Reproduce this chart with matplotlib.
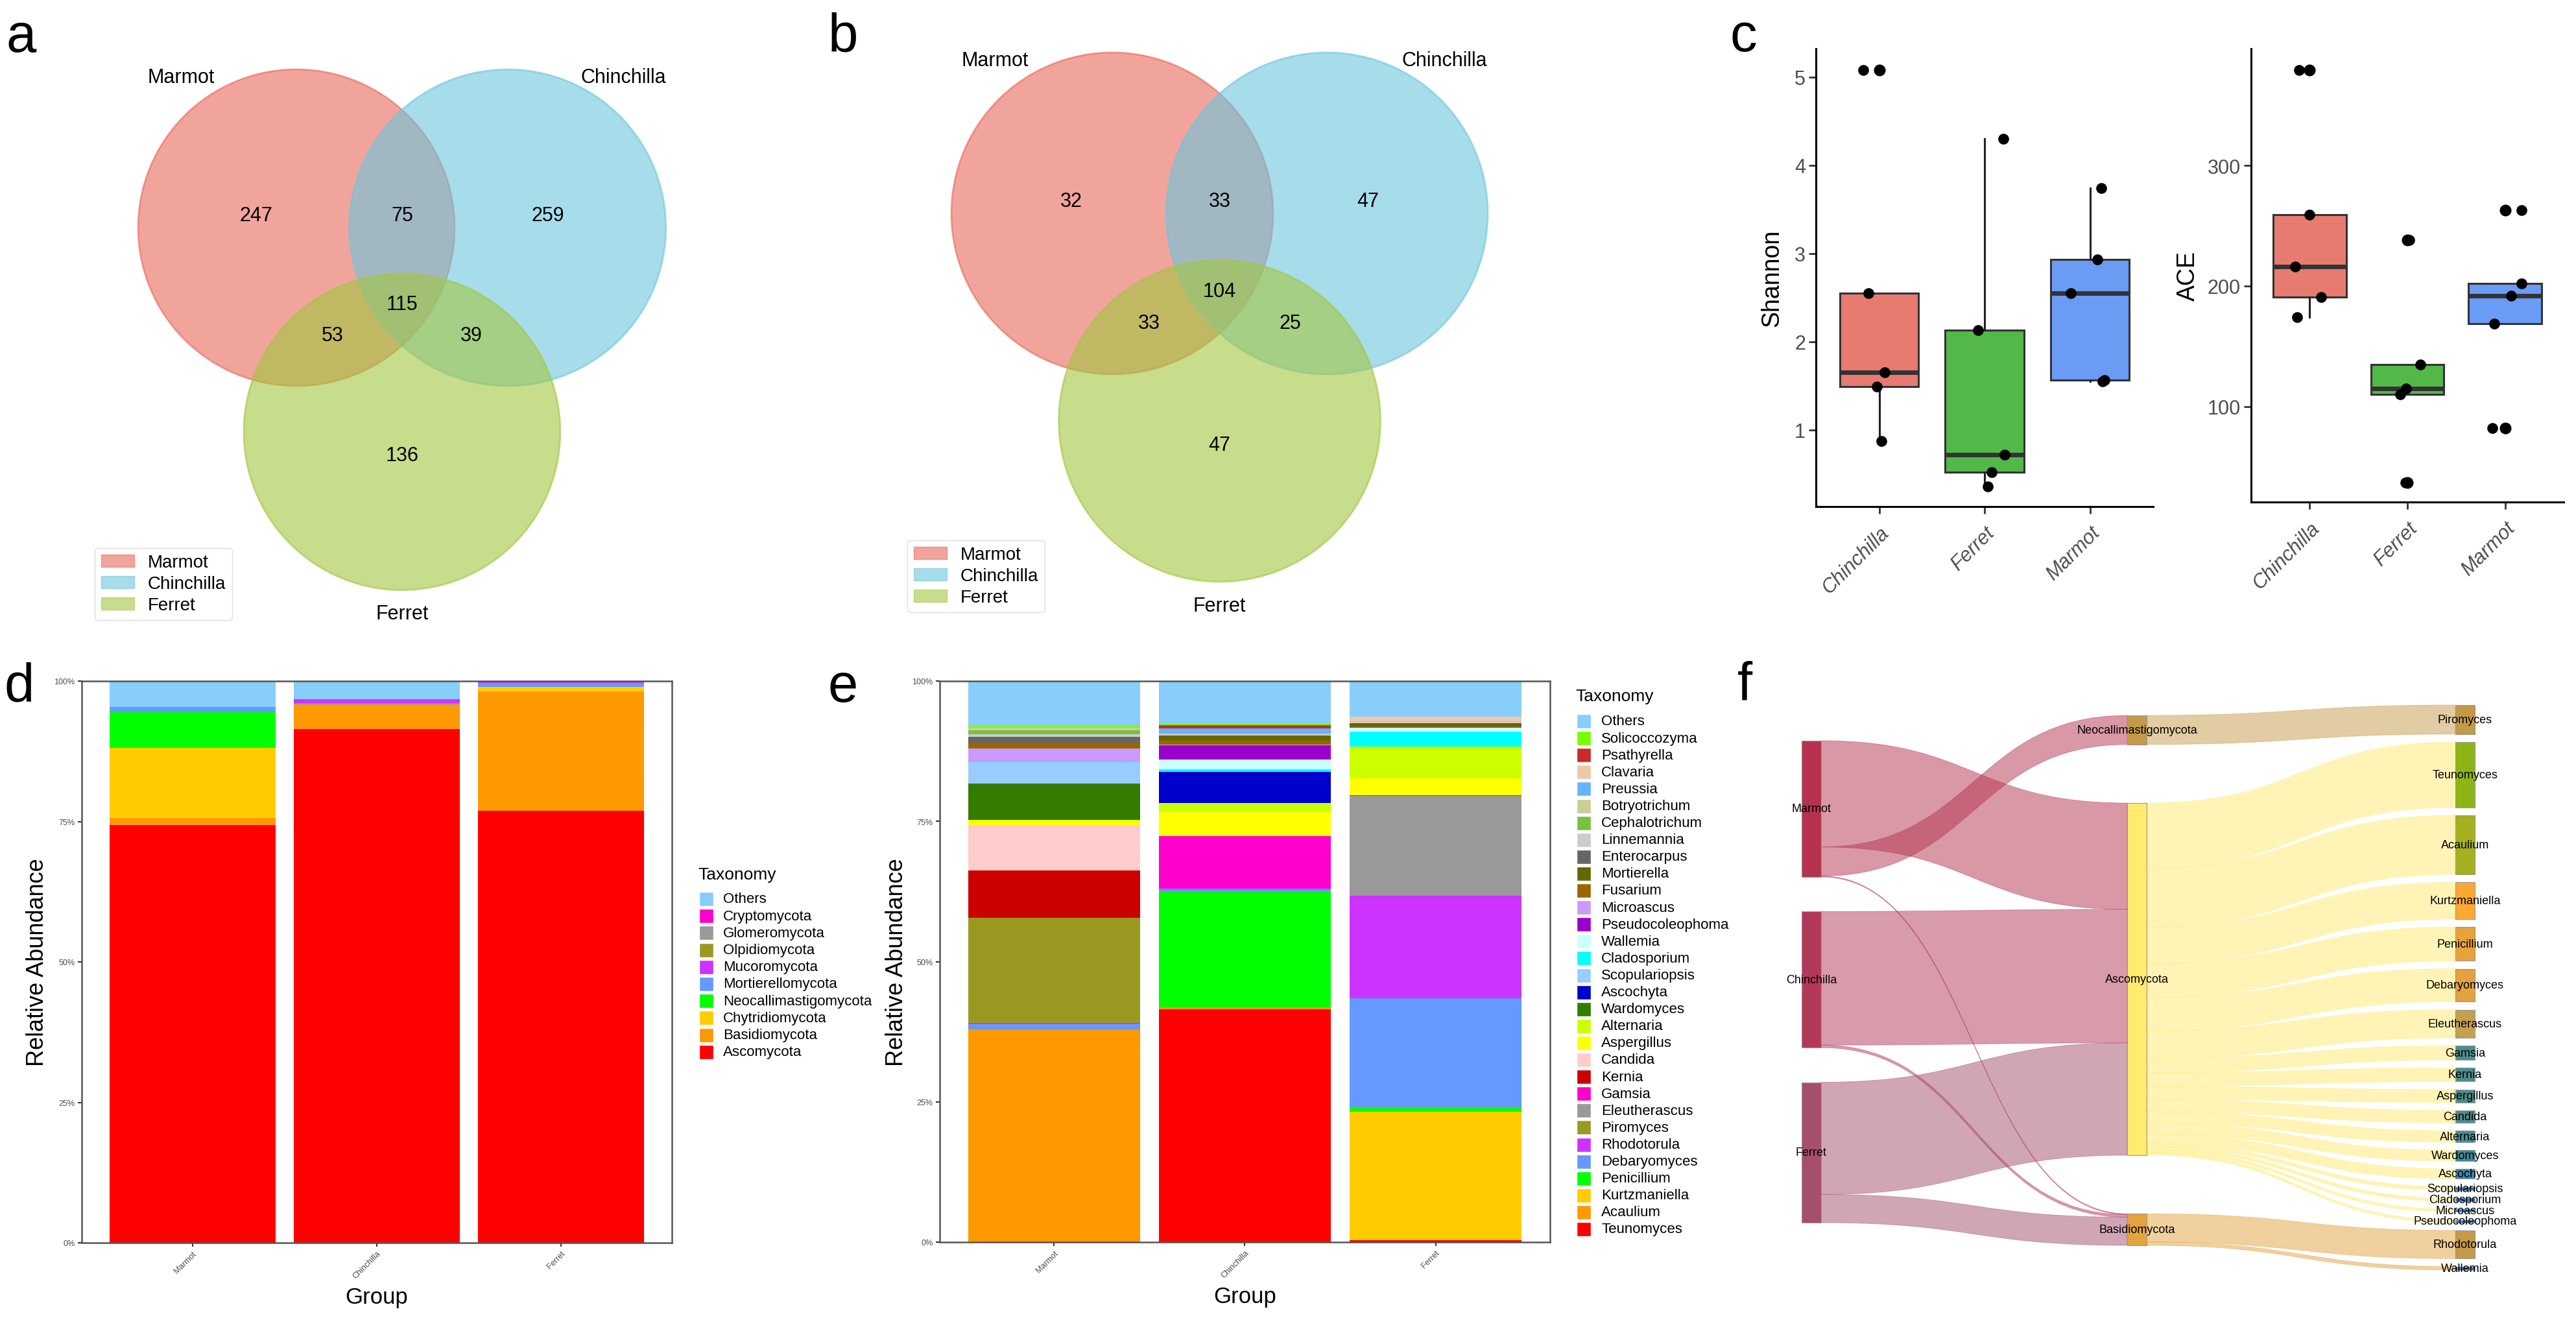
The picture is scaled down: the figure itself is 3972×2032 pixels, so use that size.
import numpy as np
import matplotlib
matplotlib.use('Agg')
import matplotlib.pyplot as plt
from matplotlib.patches import Circle, Rectangle, PathPatch, Patch
from matplotlib.path import Path

plt.rcParams['font.family'] = ['Liberation Sans', 'DejaVu Sans']

# ======================= DATA =======================
venn_sets = ['Marmot', 'Chinchilla', 'Ferret']
venn_regions = ['M', 'C', 'MC', 'MCF', 'MF', 'CF', 'F']
venn_a_counts = [247, 259, 75, 115, 53, 39, 136]
venn_b_counts = [32, 47, 33, 104, 33, 25, 47]

box_groups = ['Chinchilla', 'Ferret', 'Marmot']
shannon_chinchilla = [5.08, 2.55, 1.65, 1.49, 0.87]
shannon_ferret = [4.30, 2.13, 0.72, 0.52, 0.36]
shannon_marmot = [3.74, 2.93, 2.55, 1.55, 1.56]
ace_chinchilla = [379, 259, 216, 191, 174]
ace_ferret = [238, 135, 115, 110, 37]
ace_marmot = [263, 202, 192, 169, 82]

bar_groups = ['Marmot', 'Chinchilla', 'Ferret']
phyla = ['Ascomycota', 'Basidiomycota', 'Chytridiomycota', 'Neocallimastigomycota',
         'Mortierellomycota', 'Mucoromycota', 'Olpidiomycota', 'Glomeromycota',
         'Cryptomycota', 'Others']
phylum_marmot = [0.744, 0.0122, 0.125, 0.0629, 0.0096, 0.0, 0.0, 0.0, 0.0, 0.0463]
phylum_chinchilla = [0.915, 0.0432, 0.0, 0.0, 0.0027, 0.0069, 0.0, 0.0, 0.0, 0.0322]
phylum_ferret = [0.7685, 0.213, 0.0081, 0.0, 0.0073, 0.003, 0.0, 0.0, 0.0, 0.0001]

genera = ['Teunomyces', 'Acaulium', 'Kurtzmaniella', 'Penicillium', 'Debaryomyces',
          'Rhodotorula', 'Piromyces', 'Eleutherascus', 'Gamsia', 'Kernia', 'Candida',
          'Aspergillus', 'Alternaria', 'Wardomyces', 'Ascochyta', 'Scopulariopsis',
          'Cladosporium', 'Wallemia', 'Pseudocoleophoma', 'Microascus', 'Fusarium',
          'Mortierella', 'Enterocarpus', 'Linnemannia', 'Cephalotrichum', 'Botryotrichum',
          'Preussia', 'Clavaria', 'Psathyrella', 'Solicoccozyma', 'Others']
genus_marmot = [0.0, 0.379, 0.0, 0.0, 0.010, 0.002, 0.187, 0.0, 0.0, 0.085, 0.080,
                0.0085, 0.001, 0.065, 0.0, 0.0385, 0.001, 0.0, 0.0, 0.0223, 0.0108,
                0.0, 0.0108, 0.0046, 0.0069, 0.0046, 0.0, 0.0, 0.0, 0.0027, 0.0803]
genus_chinchilla = [0.415, 0.003, 0.0, 0.207, 0.004, 0.002, 0.0, 0.0, 0.093, 0.0, 0.0,
                    0.0423, 0.0166, 0.0, 0.0554, 0.0, 0.005, 0.0173, 0.025, 0.001, 0.0069,
                    0.0092, 0.0, 0.0021, 0.0, 0.0021, 0.0085, 0.0, 0.0058, 0.002, 0.0768]
genus_ferret = [0.004, 0.0, 0.2285, 0.0076, 0.1945, 0.183, 0.0, 0.178, 0.001, 0.0, 0.0,
                0.0296, 0.057, 0.0, 0.0, 0.0, 0.027, 0.0062, 0.0, 0.0, 0.0023,
                0.0062, 0.0, 0.002, 0.0, 0.0019, 0.0, 0.0077, 0.0, 0.0, 0.0635]

sankey_groups = ['Marmot', 'Chinchilla', 'Ferret']
sankey_phyla = ['Neocallimastigomycota', 'Ascomycota', 'Basidiomycota']
link_src = ['Marmot', 'Marmot', 'Marmot', 'Chinchilla', 'Chinchilla', 'Ferret', 'Ferret']
link_tgt = ['Ascomycota', 'Neocallimastigomycota', 'Basidiomycota', 'Ascomycota',
            'Basidiomycota', 'Ascomycota', 'Basidiomycota']
link_val = [249, 68, 2, 313, 6, 263, 66]
sankey_genera = ['Piromyces', 'Teunomyces', 'Acaulium', 'Kurtzmaniella', 'Penicillium',
                 'Debaryomyces', 'Eleutherascus', 'Gamsia', 'Kernia', 'Aspergillus',
                 'Candida', 'Alternaria', 'Wardomyces', 'Ascochyta', 'Scopulariopsis',
                 'Cladosporium', 'Microascus', 'Pseudocoleophoma', 'Rhodotorula', 'Wallemia']
genus_parent = ['Neocallimastigomycota'] + ['Ascomycota'] * 17 + ['Basidiomycota'] * 2
genus_value = [68, 153, 138, 86, 79, 77, 66, 33, 32, 30, 29, 27, 25, 23, 8, 7, 6, 6, 66, 8]

# ======================= STYLE =======================
W, H = 3973, 2033
fig = plt.figure(figsize=(W / 100, H / 100), dpi=100)


def px_axes(x0, y0, x1, y1, **kw):
    return fig.add_axes([x0 / W, 1 - y1 / H, (x1 - x0) / W, (y1 - y0) / H], **kw)


def panel_label(x, y, s):
    fig.text(x / W, 1 - y / H, s, fontsize=60, ha='left', va='baseline')


venn_colors = ['#E8685A', '#6CC6DE', '#A2C73F']
# label offsets in units of the circle radius
region_offsets = {'M': ('M', -0.255, -0.078), 'C': ('C', 0.255, -0.078),
                  'MC': ('MCmid', 0.0, -0.078), 'MCF': ('cent', 0.0, 0.053),
                  'MF': ('M', 0.23, 0.68), 'CF': ('C', -0.23, 0.68), 'F': ('F', 0.0, 0.15)}


def draw_venn(ax, mx, my, r, counts, legend_anchor):
    centers = {'M': (mx, my), 'C': (mx + 1.335 * r, my), 'F': (mx + 0.6675 * r, my + 1.29 * r)}
    centers['MCmid'] = ((centers['M'][0] + centers['C'][0]) / 2, my)
    centers['cent'] = (np.mean([centers[k][0] for k in 'MCF']), np.mean([centers[k][1] for k in 'MCF']))
    for key, col in zip('MCF', venn_colors):
        ax.add_patch(Circle(centers[key], r, facecolor=col, edgecolor=col, alpha=0.6, lw=2))
    for reg, cnt in zip(venn_regions, counts):
        anc, dx, dy = region_offsets[reg]
        ax.text(centers[anc][0] + dx * r, centers[anc][1] + dy * r, str(cnt),
                ha='center', va='center', fontsize=22)
    ax.text(centers['M'][0] - 0.73 * r, my - 0.95 * r, venn_sets[0], ha='center', va='center', fontsize=22)
    ax.text(centers['C'][0] + 0.73 * r, my - 0.95 * r, venn_sets[1], ha='center', va='center', fontsize=22)
    ax.text(centers['F'][0], centers['F'][1] + 1.15 * r, venn_sets[2], ha='center', va='center', fontsize=22)
    handles = [Patch(facecolor=c, edgecolor=c, alpha=0.6) for c in venn_colors]
    leg = ax.legend(handles, venn_sets, loc='lower left', bbox_to_anchor=legend_anchor,
                    bbox_transform=ax.transData, borderaxespad=0, fontsize=20,
                    handlelength=1.85, handleheight=0.7, labelspacing=0.25,
                    handletextpad=0.75, borderpad=0.35, fancybox=True, framealpha=1)
    leg.get_frame().set_edgecolor('#DDDDDD')


# ---- panel a
ax_a = px_axes(0, 0, 1300, 1000)
ax_a.set_xlim(0, 1300); ax_a.set_ylim(1000, 0); ax_a.axis('off')
draw_venn(ax_a, 457, 352, 244, venn_a_counts, (146, 957))
# ---- panel b
ax_b = px_axes(1300, 0, 2600, 1000)
ax_b.set_xlim(0, 1300); ax_b.set_ylim(1000, 0); ax_b.axis('off')
draw_venn(ax_b, 415, 330, 248, venn_b_counts, (99, 945))

# ---- panel c
box_colors = ['#E87B70', '#52B848', '#6A9BF5']


def draw_box(ax, data, jitter, ylim, yticks, ylabel, label_x):
    pos = np.arange(1, 4)
    bp = ax.boxplot(data, positions=pos, widths=0.75, patch_artist=True, whis=1.5,
                    showcaps=False,
                    flierprops=dict(marker='o', markerfacecolor='black', markeredgecolor='black', markersize=12),
                    medianprops=dict(color='#333333', lw=5),
                    boxprops=dict(edgecolor='#333333', lw=2.2),
                    whiskerprops=dict(color='#222222', lw=2.2))
    for patch, col in zip(bp['boxes'], box_colors):
        patch.set_facecolor(col)
    for p, vals, jit in zip(pos, data, jitter):
        ax.plot(p + np.array(jit), vals, 'o', color='black', markersize=12, zorder=5, markeredgewidth=0)
    ax.set_xlim(0.4, 3.6)
    ax.set_ylim(*ylim)
    ax.set_yticks(yticks)
    ax.set_xticks(pos)
    ax.set_xticklabels(box_groups, rotation=45, ha='right', rotation_mode='anchor',
                       fontstyle='italic')
    for s in ['top', 'right']:
        ax.spines[s].set_visible(False)
    for s in ['left', 'bottom']:
        ax.spines[s].set_linewidth(2.2)
        ax.spines[s].set_color('black')
    ax.tick_params(length=8, width=2, color='#333333', labelsize=22, labelcolor='#4D4D4D')
    ax.tick_params(axis='x', pad=10)
    ax.set_ylabel(ylabel, fontsize=27)
    ax.yaxis.set_label_coords(label_x, 0.5)


shannon_jitter = [[-0.15, -0.10, 0.05, -0.02, 0.02], [0.18, -0.06, 0.19, 0.07, 0.03],
                  [0.11, 0.07, -0.18, 0.12, 0.14]]
ace_jitter = [[-0.11, 0.0, -0.15, 0.12, -0.13], [0.02, 0.13, -0.01, -0.07, -0.02],
              [0.17, 0.17, 0.06, -0.11, -0.13]]
ax_s = px_axes(2800, 76, 3320, 782)
draw_box(ax_s, [shannon_chinchilla, shannon_ferret, shannon_marmot], shannon_jitter,
         (0.13, 5.32), [1, 2, 3, 4, 5], 'Shannon', -0.095)
ax_ace = px_axes(3471, 76, 3953, 775)
draw_box(ax_ace, [ace_chinchilla, ace_ferret, ace_marmot], ace_jitter,
         (20.7, 397), [100, 200, 300], 'ACE', -0.165)

# ---- panels d, e
phylum_colors = ['#FF0000', '#FF9900', '#FFCC00', '#00FF00', '#6699FF', '#CC33FF',
                 '#999922', '#999999', '#FF00CC', '#87CEFA']
genus_colors = ['#FF0000', '#FF9900', '#FFCC00', '#00FF00', '#6699FF', '#CC33FF',
                '#999922', '#999999', '#FF00CC', '#CC0000', '#FFCCCC', '#FFFF00',
                '#CCFF00', '#347C00', '#0000CC', '#99CCFF', '#00FFFF', '#CCFFFF',
                '#9900CC', '#CC99FF', '#996600', '#666600', '#666666', '#CCCCCC',
                '#77C13F', '#CCCC99', '#66B3FF', '#EEC8A8', '#CC2929', '#77FF00', '#87CEFA']


def draw_stack(ax, names, colors, per_group):
    vals = np.array(per_group).T
    x = np.arange(1, 4)
    bottom = np.zeros(3)
    for n, c, v in zip(names, colors, vals):
        ax.bar(x, v, width=0.9, bottom=bottom, color=c, linewidth=0, label=n)
        bottom += v
    ax.set_xlim(0.4, 3.6)
    ax.set_ylim(0, 1)
    ax.set_yticks([0, 0.25, 0.5, 0.75, 1.0])
    ax.set_yticklabels(['0%', '25%', '50%', '75%', '100%'])
    ax.set_xticks(x)
    ax.set_xticklabels(bar_groups, rotation=45, ha='right', rotation_mode='anchor')
    ax.tick_params(labelsize=9, labelcolor='#4D4D4D', length=4, width=1.5, color='#333333')
    for s in ax.spines.values():
        s.set_color('#555555'); s.set_linewidth(1.8)
    ax.set_ylabel('Relative Abundance', fontsize=26)
    ax.set_xlabel('Group', fontsize=25)


def tax_legend(x_title, y_title, x_key, x_text, y_first, pitch, names, colors):
    fig.text(x_title / W, 1 - y_title / H, 'Taxonomy', fontsize=19, ha='left', va='center')
    for i, (n, c) in enumerate(zip(names[::-1], colors[::-1])):
        yc = y_first + i * pitch
        fig.add_artist(Rectangle((x_key / W, 1 - (yc + 11) / H), 22 / W, 22 / H,
                                 transform=fig.transFigure, facecolor=c, edgecolor='white', lw=1))
        fig.text(x_text / W, 1 - yc / H, n, fontsize=16, ha='left', va='center')


ax_d = px_axes(126, 1051, 1036, 1917)
draw_stack(ax_d, phyla, phylum_colors, [phylum_marmot, phylum_chinchilla, phylum_ferret])
ax_d.yaxis.set_label_coords(-0.056, 0.5)
ax_d.xaxis.set_label_coords(0.5, -0.077)
tax_legend(1076, 1349, 1078, 1115, 1387, 26.2, phyla, phylum_colors)

ax_e = px_axes(1449, 1051, 2390, 1916)
draw_stack(ax_e, genera, genus_colors, [genus_marmot, genus_chinchilla, genus_ferret])
ax_e.yaxis.set_label_coords(-0.052, 0.5)
ax_e.xaxis.set_label_coords(0.5, -0.077)
tax_legend(2429, 1074, 2431, 2469, 1113, 26.1, genera, genus_colors)

# ---- panel f : sankey
ax_f = px_axes(2600, 1000, 3973, 2033)
ax_f.set_xlim(2600, 3973); ax_f.set_ylim(2033, 1000); ax_f.axis('off')

group_colors = {'Marmot': '#B5334F', 'Chinchilla': '#B2395A', 'Ferret': '#A54F6B'}
phylum_node_colors = {'Neocallimastigomycota': '#C49A48', 'Ascomycota': '#FFEB6E',
                      'Basidiomycota': '#E3A33E'}
genus_node_colors = ['#C49A48', '#8DB414', '#A5B01E', '#FBA833', '#E9A23B', '#E3A13F',
                     '#C4A04F', '#4B8C8E', '#4B8C8E', '#4B8C8E', '#4B8C8E', '#4A8C94',
                     '#3F8A9A', '#3A86A8', '#2A7FBF', '#2A7FC6', '#2D7FD0', '#2F7FD5',
                     '#C49A48', '#2E80D0']
K = 0.658          # px per unit
NODE_W = 30
col_x = [2778, 3280, 3786]
col_extent = [(1143, 1886), (1104, 1921), (1088, 1959)]


def stack_column(values, top, bottom):
    h = np.array(values, dtype=float) * K
    gap = (bottom - top - h.sum()) / (len(h) - 1)
    ys = top + np.concatenate([[0], np.cumsum(h[:-1] + gap)])
    return ys, h


group_vals = [sum(v for s, v in zip(link_src, link_val) if s == g) for g in sankey_groups]
phylum_vals = [sum(v for t, v in zip(link_tgt, link_val) if t == p) for p in sankey_phyla]
gy, gh = stack_column(group_vals, *col_extent[0])
py, ph = stack_column(phylum_vals, *col_extent[1])
ry, rh = stack_column(genus_value, *col_extent[2])

node = {}
for n, y, h in zip(sankey_groups, gy, gh):
    node[n] = [col_x[0], y, h, group_colors[n]]
for n, y, h in zip(sankey_phyla, py, ph):
    node[n] = [col_x[1], y, h, phylum_node_colors[n]]
for n, y, h, c in zip(sankey_genera, ry, rh, genus_node_colors):
    node[n] = [col_x[2], y, h, c]


def band(x0, y0, x1, y1, w, color):
    xm = (x0 + x1) / 2
    verts = [(x0, y0), (xm, y0), (xm, y1), (x1, y1), (x1, y1 + w), (xm, y1 + w),
             (xm, y0 + w), (x0, y0 + w), (x0, y0)]
    codes = [Path.MOVETO, Path.CURVE4, Path.CURVE4, Path.CURVE4, Path.LINETO,
             Path.CURVE4, Path.CURVE4, Path.CURVE4, Path.CLOSEPOLY]
    ax_f.add_patch(PathPatch(Path(verts, codes), facecolor=color, edgecolor=color,
                             lw=0.6, alpha=0.5, zorder=1))


out_cursor = {n: node[n][1] for n in node}
in_cursor = {n: node[n][1] for n in node}
for s, t, v in zip(link_src, link_tgt, link_val):
    w = v * K
    band(node[s][0] + NODE_W, out_cursor[s], node[t][0], in_cursor[t], w, node[s][3])
    out_cursor[s] += w
    in_cursor[t] += w
for g, p, v in zip(sankey_genera, genus_parent, genus_value):
    w = v * K
    band(node[p][0] + NODE_W, out_cursor[p], node[g][0], in_cursor[g], w, node[p][3])
    out_cursor[p] += w
    in_cursor[g] += w

for n, (x, y, h, c) in node.items():
    ax_f.add_patch(Rectangle((x, y), NODE_W, h, facecolor=c, edgecolor='#999999',
                             lw=0.8, zorder=2))
    ax_f.text(x + NODE_W / 2, y + h / 2, n, ha='center', va='center', fontsize=13, zorder=3)

# ---- panel letters
panel_label(10, 80, 'a')
panel_label(1277, 80, 'b')
panel_label(2668, 79, 'c')
panel_label(7, 1082, 'd')
panel_label(1277, 1082, 'e')
panel_label(2679, 1080, 'f')

fig.savefig('out.png', dpi=100, facecolor='white')
